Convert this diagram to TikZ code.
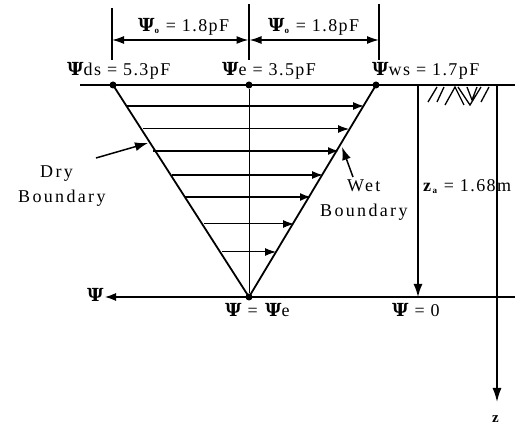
\documentclass[tikz,border=0pt]{standalone}
\usepackage{fontspec}
\setmainfont{Liberation Serif}[LetterSpace=8]
\newfontfamily\psifont{DejaVu Serif}
\newfontfamily\widefont{Liberation Serif}[LetterSpace=13]
\usetikzlibrary{arrows.meta}
\newcommand{\PsiG}{\textbf{\psifont\char"03A8}}
\newcommand{\lowsub}[1]{\raisebox{-2pt}{\fontsize{9}{9}\selectfont\textbf{#1}}}
\tikzset{
 x=1pt,y=-1pt,
 lab/.style={inner sep=0pt,font=\fontsize{18}{18}\selectfont,anchor=base west},
 wide/.style={inner sep=0pt,font=\fontsize{18}{18}\selectfont\widefont,anchor=base west},
 thick line/.style={line width=1.5pt},
 thin line/.style={line width=1pt},
 arr/.style={line width=1.2pt},
 dot/.style={circle,fill=black,inner sep=0pt,minimum size=7pt}
}
\begin{document}
\begin{tikzpicture}
\useasboundingbox (0,0) rectangle (515,427);
% key points
\node[dot] (L) at (113,85) {};
\node[dot] (C) at (249,85) {};
\node[dot] (R) at (376,85) {};
\node[dot] (A) at (249,297) {};
\coordinate (topW) at (80,85);
\coordinate (topE) at (515,85);
\coordinate (botW) at (105,297);
\coordinate (botE) at (515,297);
\draw[thick line] (topW) -- (topE);
\draw[arr,{Latex[length=11pt,width=8pt]}-] (botW) -- (botE);
\draw[line width=1.8pt] (L.center) -- (A.center) -- (R.center);
\draw[thin line] (C) -- (A);
% dimension lines
\coordinate (d1a) at (112,8); \coordinate (d1b) at (112,60);
\coordinate (d2a) at (249,4); \coordinate (d2b) at (249,60);
\coordinate (d3a) at (379,4); \coordinate (d3b) at (379,60);
\draw[thick line] (d1a) -- (d1b);
\draw[thick line] (d2a) -- (d2b);
\draw[thick line] (d3a) -- (d3b);
\coordinate (m1) at (112,40); \coordinate (m2) at (248.5,40);
\coordinate (m2b) at (249.5,40); \coordinate (m3) at (379,40);
\draw[{Latex[length=12pt,width=8pt]}-{Latex[length=12pt,width=8pt]},thick line] (m1) -- (m2);
\draw[{Latex[length=12pt,width=8pt]}-{Latex[length=12pt,width=8pt]},thick line] (m2b) -- (m3);
% velocity arrows
\foreach \y/\a/\b/\w in {106/127/364/1.3,129/143/349/1,151/153/339/1.8,175/172/323/1.3,197/185/311/1.8,224/204/294/1,252/222/276/1}
  \draw[-{Latex[length=11pt,width=8pt]},line width=\w pt] (\a,\y) -- (\b,\y);
% depth
\coordinate (zaT) at (418,85); \coordinate (zaB) at (418,297);
\draw[-{Latex[length=13pt,width=9pt]},thick line] (zaT) -- (zaB);
\coordinate (zT) at (497,85); \coordinate (zB) at (497,402);
\draw[-{Latex[length=14pt,width=9pt]},thick line] (zT) -- (zB);
% hatching
\draw[line width=1.3pt]
 (428,102)--(437,87) (437,102)--(444,87)
 (445,105)--(455,87)--(464,105)
 (458,87)--(470,105)--(481,87)
 (467,87)--(472,100)--(477,87)
 (481,102)--(489,87);
% leader arrows
\coordinate (dry0) at (96,158); \coordinate (dry1) at (148,143);
\draw[-{Latex[length=13pt,width=9pt]},thick line] (dry0) -- (dry1);
\coordinate (wet0) at (353,177); \coordinate (wet1) at (342,147);
\draw[-{Latex[length=13pt,width=9pt]},thick line] (wet0) -- (wet1);
% labels
\node[lab] (t1) at (138,32) {\PsiG\lowsub{o} = 1.8pF};
\node[lab] (t2) at (268,32) {\PsiG\lowsub{o} = 1.8pF};
\node[lab] (t3) at (67,76) {\PsiG ds = 5.3pF};
\node[lab] (t4) at (222,76) {\PsiG e = 3.5pF};
\node[lab] (t5) at (372,76) {\PsiG ws = 1.7pF};
\node[lab] (t6) at (87,302) {\PsiG};
\node[lab] (t7) at (225,317) {\PsiG\ = \PsiG e};
\node[lab] (t8) at (392,317) {\PsiG\ = 0};
\node[wide] (t9) at (40,178) {Dry};
\node[wide] (t10) at (18,203) {Boundary};
\node[wide] (t11) at (347,192) {Wet};
\node[wide] (t12) at (320,217) {Boundary};
\node[lab] (t13) at (423,192) {\textbf{z}\lowsub{a} = 1.68m};
\node[lab,font=\fontsize{15}{15}\selectfont\bfseries] (t14) at (492,423) {z};
\end{tikzpicture}
\end{document}
